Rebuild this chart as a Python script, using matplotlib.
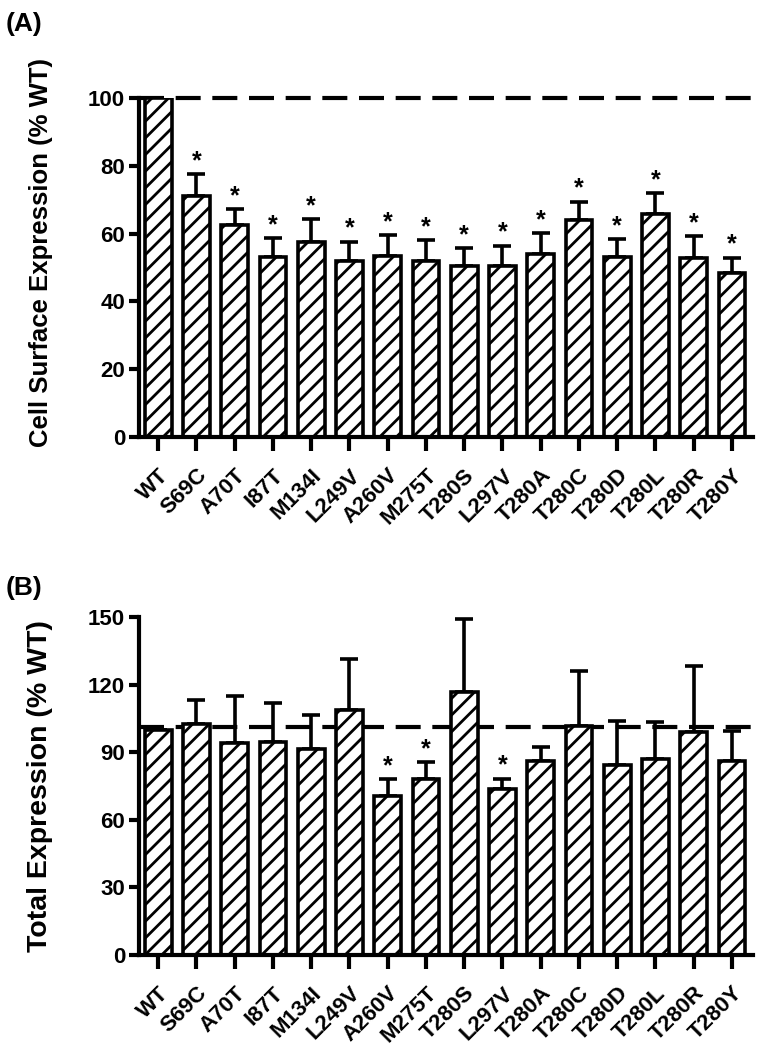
import matplotlib
matplotlib.use('Agg')
import matplotlib.pyplot as plt
import numpy as np

plt.rcParams['font.family'] = ['Liberation Sans', 'DejaVu Sans']
plt.rcParams['font.weight'] = 'bold'
plt.rcParams['hatch.linewidth'] = 2.0

# Data
mutants = ['WT', 'S69C', 'A70T', 'I87T', 'M134I', 'L249V', 'A260V', 'M275T',
           'T280S', 'L297V', 'T280A', 'T280C', 'T280D', 'T280L', 'T280R', 'T280Y']

surface_mean = [100, 71.2, 62.5, 53.0, 57.6, 51.9, 53.4, 51.9,
                50.5, 50.5, 53.9, 64.0, 53.2, 65.7, 52.7, 48.3]
surface_err = [0, 6.3, 4.8, 5.6, 6.6, 5.7, 6.2, 6.2,
               5.2, 5.9, 6.2, 5.4, 5.1, 6.2, 6.6, 4.6]
surface_sig = [False] + [True] * 15

total_mean = [100, 102.7, 93.9, 94.6, 91.6, 108.6, 70.5, 78.3,
              116.5, 73.6, 86.2, 101.5, 84.5, 86.9, 99.0, 86.0]
total_err = [0, 10.4, 20.9, 17.3, 14.8, 22.6, 7.5, 7.4,
             32.8, 4.7, 5.9, 24.4, 19.3, 16.6, 29.4, 13.5]
total_sig = [False, False, False, False, False, False, True, True,
             False, True, False, False, False, False, False, False]

x = np.arange(len(mutants))

fig = plt.figure(figsize=(7.65, 10.5), dpi=100)
axA = fig.add_axes([0.1817, 0.5838, 0.8026, 0.3229])
axB = fig.add_axes([0.1817, 0.0905, 0.8026, 0.3219])


def draw_panel(ax, means, errs, sig, ymax, yticks, ref, ylabel, ylsize, ylpos):
    ax.bar(x, means, width=0.7, color='white', edgecolor='black',
           linewidth=2.6, hatch='//', zorder=2)
    ax.errorbar(x, means, yerr=[np.zeros(len(errs)), errs], fmt='none',
                ecolor='black', elinewidth=2.6, capsize=6.5, capthick=2.6, zorder=1)
    for xi, m, e, s in zip(x, means, errs, sig):
        if s:
            ax.text(xi, m + e + 0.3 * ymax / 100, '*', ha='center', va='bottom',
                    fontsize=18, fontweight='bold')
    ax.axhline(ref, color='black', linestyle=(0, (6, 2.8)), linewidth=3.0,
               zorder=0, clip_on=False)
    ax.set_xlim(-0.5, 15.55)
    ax.set_ylim(0, ymax)
    ax.set_yticks(yticks)
    ax.set_xticks(x)
    ax.set_xticklabels(mutants, rotation=45, ha='right', rotation_mode='anchor',
                       fontsize=16, fontweight='bold')
    ax.tick_params(axis='y', labelsize=16, width=3, length=7, direction='out', pad=3)
    ax.tick_params(axis='x', width=3, length=10, direction='out', pad=10)
    for lab in ax.get_yticklabels():
        lab.set_fontweight('bold')
    for side in ['top', 'right']:
        ax.spines[side].set_visible(False)
    for side in ['left', 'bottom']:
        ax.spines[side].set_linewidth(3)
    ax.set_ylabel(ylabel, fontsize=ylsize, fontweight='bold')
    ax.yaxis.set_label_coords(-0.14, ylpos)


draw_panel(axA, surface_mean, surface_err, surface_sig, 100,
           [0, 20, 40, 60, 80, 100], 100, 'Cell Surface Expression (% WT)', 18.5, 0.545)
draw_panel(axB, total_mean, total_err, total_sig, 150,
           [0, 30, 60, 90, 120, 150], 101, 'Total Expression (% WT)', 20.5, 0.5)

fig.text(0.008, 0.977, '(A)', fontsize=19, fontweight='bold', va='center')
fig.text(0.008, 0.44, '(B)', fontsize=19, fontweight='bold', va='center')

fig.savefig('out.png', dpi=100)
plt.close(fig)
